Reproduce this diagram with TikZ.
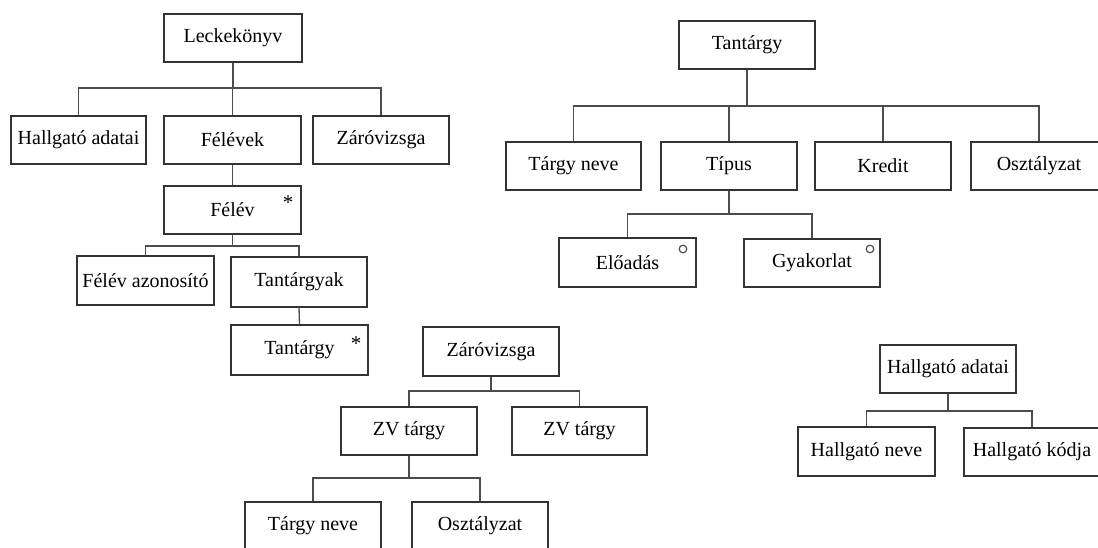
\documentclass[tikz,border=0pt]{standalone}
\usepackage{fontspec}
\setmainfont{Liberation Serif}
\begin{document}
\begin{tikzpicture}[x=1pt,y=-1pt,
  box/.style={draw=black!80, line width=1.4pt, fill=white, inner sep=0pt,
    minimum width=136pt, minimum height=48pt, font=\fontsize{20}{23}\selectfont},
  conn/.style={draw=black!70, line width=1.3pt},
  mult/.style={inner sep=0pt, anchor=base, font=\fontsize{21}{23}\selectfont},
  opt/.style={draw=black!70, line width=1.2pt}]
\useasboundingbox (0,0) rectangle (1098,548);
\clip (0,0) rectangle (1098,548);

% Leckekönyv tree
\node[box, minimum width=138pt] (leck) at (233,38) {Leckekönyv};
\node[box, minimum width=135pt] (hadat) at (78.5,140) {Hallgató adatai};
\node[box, minimum width=137pt] (felevek) at (232.5,140) {Félévek};
\node[box] (zv) at (381,140) {Záróvizsga};
\node[box, minimum width=137pt] (felev) at (232.5,210) {Félév};
\node[box, minimum width=137pt, minimum height=49pt] (fazon) at (145.5,280.5) {Félév azonosító};
\node[box, minimum height=50pt] (tgyak) at (299,282) {Tantárgyak};
\node[box, minimum width=137pt, minimum height=50pt] (tgy) at (299.5,350) {Tantárgy};
\node[mult] (s1) at (288,210) {*};
\node[mult] (s2) at (356,350) {*};

\draw[conn] (leck.south) -- (leck.south |- 0,88) -| (hadat.north);
\draw[conn] (leck.south) -- (leck.south |- 0,88) -| (felevek.north);
\draw[conn] (leck.south) -- (leck.south |- 0,88) -| (zv.north);
\draw[conn] (felevek.south) -- (felev.north);
\draw[conn] (felev.south) -- (felev.south |- 0,246) -| (fazon.north);
\draw[conn] (felev.south) -- (felev.south |- 0,246) -| (tgyak.north);
\draw[conn] (tgyak.south) -- (tgy.north);

% Tantárgy tree
\node[box] (T) at (747,45) {Tantárgy};
\node[box, minimum width=135pt] (tneve) at (573.5,166) {Tárgy neve};
\node[box] (tipus) at (729,166) {Típus};
\node[box] (kredit) at (883,166) {Kredit};
\node[box] (oszt) at (1039,166) {Osztályzat};
\node[box, minimum width=137pt, minimum height=49pt] (eload) at (627.5,262.5) {Előadás};
\node[box] (gyak) at (812,263) {Gyakorlat};
\draw[opt] (683,249) circle[radius=3.8pt];
\draw[opt] (870,249) circle[radius=3.8pt];

\draw[conn] (T.south) -- (T.south |- 0,106) -| (tneve.north);
\draw[conn] (T.south) -- (T.south |- 0,106) -| (tipus.north);
\draw[conn] (T.south) -- (T.south |- 0,106) -| (kredit.north);
\draw[conn] (T.south) -- (T.south |- 0,106) -| (oszt.north);
\draw[conn] (tipus.south) -- (tipus.south |- 0,214) -| (eload.north);
\draw[conn] (tipus.south) -- (tipus.south |- 0,214) -| (gyak.north);

% Záróvizsga tree
\node[box, minimum height=49pt] (zv2) at (491,351.5) {Záróvizsga};
\node[box] (zvt1) at (409,431) {ZV tárgy};
\node[box, minimum width=135pt] (zvt2) at (579.5,431) {ZV tárgy};
\node[box] (ztneve) at (313,526) {Tárgy neve};
\node[box] (zoszt) at (480,526) {Osztályzat};

\draw[conn] (zv2.south) -- (zv2.south |- 0,391) -| (zvt1.north);
\draw[conn] (zv2.south) -- (zv2.south |- 0,391) -| (zvt2.north);
\draw[conn] (zvt1.south) -- (zvt1.south |- 0,478) -| (ztneve.north);
\draw[conn] (zvt1.south) -- (zvt1.south |- 0,478) -| (zoszt.north);

% Hallgató adatai tree
\node[box] (had) at (948,369) {Hallgató adatai};
\node[box, minimum width=137pt, minimum height=49pt] (hneve) at (866.5,451.5) {Hallgató neve};
\node[box, minimum width=136pt] (hkod) at (1032,452) {Hallgató kódja};

\draw[conn] (had.south) -- (had.south |- 0,411) -| (hneve.north);
\draw[conn] (had.south) -- (had.south |- 0,411) -| (hkod.north);
\end{tikzpicture}
\end{document}
